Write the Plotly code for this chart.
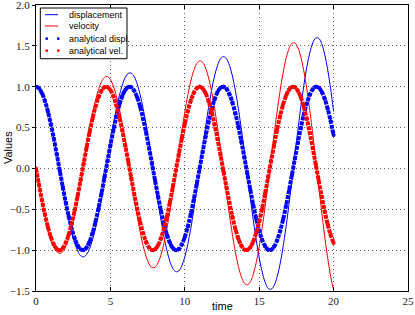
import plotly.graph_objects as go

time = [0.0, 0.2, 0.4, 0.6, 0.8, 1.0, 1.2, 1.4, 1.6, 1.8,
        2.0, 2.2, 2.4, 2.6, 2.8, 3.0, 3.2, 3.4, 3.6, 3.8,
        4.0, 4.2, 4.4, 4.6, 4.8, 5.0, 5.2, 5.4, 5.6, 5.8,
        6.0, 6.2, 6.4, 6.6, 6.8, 7.0, 7.2, 7.4, 7.6, 7.8,
        8.0, 8.2, 8.4, 8.6, 8.8, 9.0, 9.2, 9.4, 9.6, 9.8,
        10.0, 10.2, 10.4, 10.6, 10.8, 11.0, 11.2, 11.4, 11.6, 11.8,
        12.0, 12.2, 12.4, 12.6, 12.8, 13.0, 13.2, 13.4, 13.6, 13.8,
        14.0, 14.2, 14.4, 14.6, 14.8, 15.0, 15.2, 15.4, 15.6, 15.8,
        16.0, 16.2, 16.4, 16.6, 16.8, 17.0, 17.2, 17.4, 17.6, 17.8,
        18.0, 18.2, 18.4, 18.6, 18.8, 19.0, 19.2, 19.4, 19.6, 19.8,
        20.0]

displacement = [1.000, 0.985, 0.930, 0.838, 0.711, 0.555, 0.374, 0.177, -0.029, -0.236,
                -0.436, -0.620, -0.782, -0.913, -1.010, -1.067, -1.082, -1.053, -0.983, -0.872,
                -0.725, -0.548, -0.347, -0.130, 0.094, 0.317, 0.529, 0.722, 0.889, 1.021,
                1.114, 1.163, 1.166, 1.123, 1.034, 0.902, 0.734, 0.534, 0.311, 0.073,
                -0.170, -0.408, -0.633, -0.835, -1.005, -1.137, -1.225, -1.264, -1.253, -1.192,
                -1.083, -0.929, -0.737, -0.513, -0.266, -0.006, 0.256, 0.512, 0.749, 0.958,
                1.131, 1.261, 1.342, 1.369, 1.342, 1.262, 1.130, 0.951, 0.732, 0.483,
                0.210, -0.073, -0.356, -0.628, -0.877, -1.093, -1.268, -1.394, -1.466, -1.479,
                -1.434, -1.330, -1.173, -0.966, -0.719, -0.442, -0.143, 0.164, 0.469, 0.758,
                1.017, 1.240, 1.415, 1.536, 1.596, 1.593, 1.526, 1.397, 1.211, 0.975,
                0.697]

velocity = [0.000, -0.200, -0.393, -0.573, -0.731, -0.862, -0.960, -1.020, -1.040, -1.019,
            -0.957, -0.855, -0.719, -0.552, -0.362, -0.155, 0.060, 0.275, 0.481, 0.670,
            0.834, 0.966, 1.061, 1.114, 1.124, 1.088, 1.008, 0.888, 0.730, 0.542,
            0.330, 0.103, -0.131, -0.361, -0.580, -0.777, -0.946, -1.078, -1.168, -1.213,
            -1.210, -1.157, -1.059, -0.916, -0.736, -0.524, -0.290, -0.041, 0.211, 0.458,
            0.689, 0.895, 1.067, 1.198, 1.282, 1.316, 1.298, 1.227, 1.107, 0.941,
            0.735, 0.499, 0.240, -0.032, -0.304, -0.568, -0.811, -1.024, -1.198, -1.326,
            -1.403, -1.424, -1.388, -1.296, -1.151, -0.959, -0.727, -0.463, -0.178, 0.117,
            0.410, 0.690, 0.945, 1.165, 1.341, 1.464, 1.530, 1.536, 1.479, 1.363,
            1.193, 0.972, 0.710, 0.417, 0.104, -0.216, -0.530, -0.827, -1.093, -1.318,
            -1.493]

analytical_displ = [1.000, 0.980, 0.921, 0.825, 0.697, 0.540, 0.362, 0.170, -0.029, -0.227,
                    -0.416, -0.589, -0.737, -0.857, -0.942, -0.990, -0.998, -0.967, -0.897, -0.791,
                    -0.654, -0.490, -0.307, -0.112, 0.087, 0.284, 0.469, 0.635, 0.776, 0.886,
                    0.960, 0.997, 0.993, 0.950, 0.869, 0.754, 0.608, 0.439, 0.251, 0.054,
                    -0.146, -0.339, -0.519, -0.679, -0.811, -0.911, -0.975, -1.000, -0.985, -0.930,
                    -0.839, -0.714, -0.561, -0.385, -0.194, 0.004, 0.203, 0.394, 0.568, 0.720,
                    0.844, 0.934, 0.986, 0.999, 0.973, 0.907, 0.806, 0.672, 0.512, 0.331,
                    0.137, -0.063, -0.260, -0.447, -0.616, -0.760, -0.874, -0.953, -0.994, -0.996,
                    -0.958, -0.881, -0.770, -0.628, -0.460, -0.275, -0.079, 0.121, 0.316, 0.499,
                    0.660, 0.796, 0.901, 0.969, 0.999, 0.989, 0.939, 0.852, 0.731, 0.581,
                    0.408]

analytical_vel = [0.000, -0.199, -0.389, -0.565, -0.717, -0.841, -0.932, -0.985, -1.000, -0.974,
                  -0.909, -0.808, -0.676, -0.516, -0.335, -0.141, 0.058, 0.256, 0.443, 0.612,
                  0.757, 0.872, 0.952, 0.994, 0.996, 0.959, 0.884, 0.773, 0.631, 0.465,
                  0.279, 0.083, -0.117, -0.312, -0.494, -0.657, -0.794, -0.899, -0.968, -0.999,
                  -0.989, -0.941, -0.855, -0.734, -0.585, -0.412, -0.223, -0.025, 0.174, 0.367,
                  0.544, 0.700, 0.828, 0.923, 0.981, 1.000, 0.979, 0.919, 0.823, 0.694,
                  0.537, 0.358, 0.166, -0.034, -0.232, -0.420, -0.592, -0.740, -0.859, -0.944,
                  -0.991, -0.998, -0.966, -0.895, -0.788, -0.650, -0.486, -0.303, -0.108, 0.092,
                  0.288, 0.472, 0.638, 0.778, 0.888, 0.961, 0.997, 0.993, 0.949, 0.867,
                  0.751, 0.605, 0.435, 0.247, 0.050, -0.150, -0.343, -0.523, -0.682, -0.814,
                  -0.913]

x_ticks = [0, 5, 10, 15, 20, 25]
x_tick_labels = ["0", "5", "10", "15", "20", "25"]
y_ticks = [-1.5, -1.0, -0.5, 0.0, 0.5, 1.0, 1.5, 2.0]
y_tick_labels = ["\u22121.5", "\u22121.0", "\u22120.5", "0.0", "0.5", "1.0", "1.5", "2.0"]

legend_labels = ["displacement", "velocity", "analytical displ.", "analytical vel."]

BLUE = "#0000ff"
RED = "#ff0000"

fig = go.Figure()
fig.add_trace(go.Scatter(x=time, y=displacement, mode="lines", name=legend_labels[0],
                         line=dict(color=BLUE, width=1, shape="spline")))
fig.add_trace(go.Scatter(x=time, y=velocity, mode="lines", name=legend_labels[1],
                         line=dict(color=RED, width=1, shape="spline")))
fig.add_trace(go.Scatter(x=time, y=analytical_displ, mode="lines", name=legend_labels[2],
                         line=dict(color=BLUE, width=4, shape="spline", dash="4px,1px")))
fig.add_trace(go.Scatter(x=time, y=analytical_displ, mode="markers", name=legend_labels[2],
                         marker=dict(color=BLUE, size=4, line=dict(width=0))))
fig.add_trace(go.Scatter(x=time, y=analytical_vel, mode="lines", name=legend_labels[3],
                         line=dict(color=RED, width=4, shape="spline", dash="4px,1px")))
fig.add_trace(go.Scatter(x=time, y=analytical_vel, mode="markers", name=legend_labels[3],
                         marker=dict(color=RED, size=4, line=dict(width=0))))

tick_font = dict(family="Liberation Serif, DejaVu Serif, serif", size=11, color="#222222")

fig.update_xaxes(range=[0, 25], tickmode="array", tickvals=x_ticks, ticktext=x_tick_labels,
                 showline=True, linecolor="black", linewidth=1, mirror="ticks",
                 ticks="inside", ticklen=4, tickwidth=1, tickcolor="black",
                 showgrid=True, gridcolor="#666666", gridwidth=1, griddash="1px,3px",
                 zeroline=False, tickfont=tick_font, ticklabeloverflow="allow")
fig.update_yaxes(range=[-1.5, 2.0], tickmode="array", tickvals=y_ticks, ticktext=y_tick_labels,
                 showline=True, linecolor="black", linewidth=1, mirror=True,
                 ticks="outside", ticklen=3, tickwidth=1, tickcolor="black",
                 showgrid=True, gridcolor="#666666", gridwidth=1, griddash="1px,3px",
                 zeroline=False, tickfont=tick_font, ticklabeloverflow="allow")

label_font = dict(family="Liberation Sans, Arial, sans-serif", size=11, color="black")
fig.add_annotation(text="time", xref="paper", yref="paper", x=0.5, y=-0.052,
                   showarrow=False, xanchor="center", yanchor="middle", font=label_font)
fig.add_annotation(text="Values", xref="paper", yref="paper", x=-0.075, y=0.5,
                   showarrow=False, textangle=-90, xanchor="center", yanchor="middle",
                   font=label_font)

# custom legend (matplotlib-like compact box)
shapes = [dict(type="rect", xref="paper", yref="paper", x0=0.0116, x1=0.2446,
               y0=0.8122, y1=0.9895, line=dict(color="black", width=1),
               fillcolor="white", layer="above")]
row_y = [0.9661, 0.9266, 0.8822, 0.8402]
shapes.append(dict(type="line", xref="paper", yref="paper", x0=0.0242, x1=0.0591,
                   y0=row_y[0], y1=row_y[0], line=dict(color=BLUE, width=1), layer="above"))
shapes.append(dict(type="line", xref="paper", yref="paper", x0=0.0242, x1=0.0591,
                   y0=row_y[1], y1=row_y[1], line=dict(color=RED, width=1), layer="above"))
rx, ry = 0.0037, 0.0047
for yy, col in ((row_y[2], BLUE), (row_y[3], RED)):
    for xx in (0.0288, 0.0599):
        shapes.append(dict(type="circle", xref="paper", yref="paper",
                           x0=xx - rx, x1=xx + rx, y0=yy - ry, y1=yy + ry,
                           line=dict(width=0), fillcolor=col, layer="above"))
for lbl, yy in zip(legend_labels, row_y):
    fig.add_annotation(text=lbl, xref="paper", yref="paper", x=0.0833, y=yy,
                       showarrow=False, xanchor="left", yanchor="middle",
                       font=dict(family="Liberation Sans, Arial, sans-serif", size=9, color="black"))

fig.update_layout(
    width=415, height=315,
    margin=dict(l=36, r=7, t=5, b=24, autoexpand=False),
    paper_bgcolor="white", plot_bgcolor="white",
    showlegend=False,
    hovermode=False,
    shapes=shapes,
)

fig.write_html("out.html", config={"displayModeBar": False},
               post_script="document.body.style.margin='0';")
